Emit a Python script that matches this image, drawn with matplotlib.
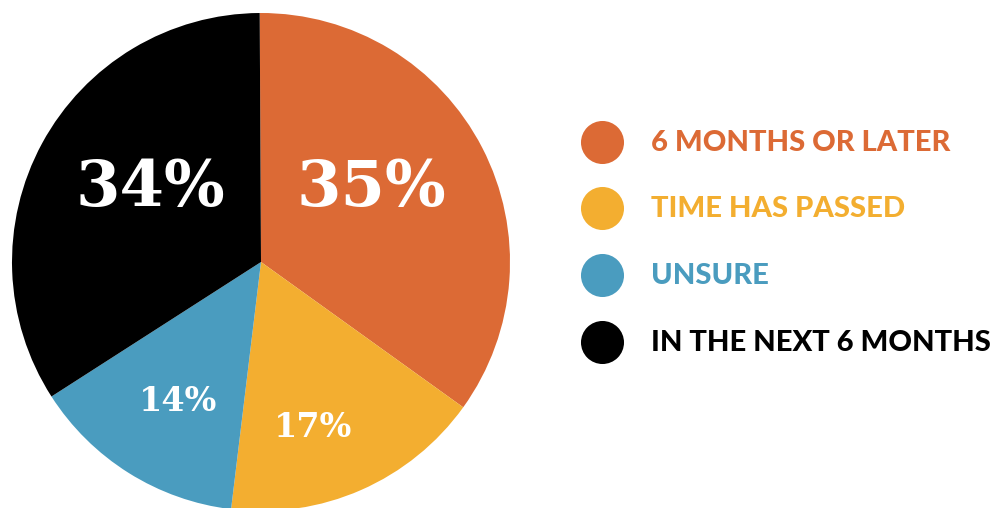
import matplotlib.pyplot as plt
import matplotlib.font_manager as fm

W, H = 993, 508

categories = ["6 MONTHS OR LATER", "TIME HAS PASSED", "UNSURE", "IN THE NEXT 6 MONTHS"]
shares = [35, 17, 14, 34]
colors = ["#DC6A35", "#F3AE30", "#4A9CBF", "#000000"]

# label positions in pie units (radius = 1) and font sizes
label_pos = [(0.445, 0.295), (0.21, -0.665), (-0.335, -0.562), (-0.445, 0.295)]
label_size = [46, 24, 24, 46]

fig = plt.figure(figsize=(W / 100, H / 100), dpi=100)
fig.patch.set_facecolor("white")

# pie axes: centre at (261, 262) px, radius 249 px
cx, cy, r = 261, 262, 249
ax = fig.add_axes([(cx - r) / W, (H - cy - r) / H, 2 * r / W, 2 * r / H])
ax.pie(shares, colors=colors, startangle=90.3, counterclock=False,
       radius=1, wedgeprops=dict(linewidth=0))
ax.set_xlim(-1, 1)
ax.set_ylim(-1, 1)
ax.set_aspect("equal")
ax.axis("off")

for s, (x, y), fs in zip(shares, label_pos, label_size):
    ax.text(x, y, f"{s}%", ha="center", va="center", color="white",
            fontsize=fs, fontweight="bold", family="DejaVu Serif")

# legend drawn in pixel coordinates
lg = fig.add_axes([0, 0, 1, 1])
lg.set_xlim(0, W)
lg.set_ylim(H, 0)
lg.axis("off")
lg.patch.set_alpha(0)

names = [f.name for f in fm.fontManager.ttflist]
legend_font = "Lato" if "Lato" in names else "DejaVu Sans"

rows_y = [142, 208, 275, 342]
for name, col, y in zip(categories, colors, rows_y):
    lg.scatter([602], [y], s=960, color=col, linewidths=0)
    lg.text(651, y + 1, name, ha="left", va="center", color=col,
            fontsize=21, fontweight="black", family=legend_font)

fig.savefig("out.png", dpi=100, facecolor="white")
